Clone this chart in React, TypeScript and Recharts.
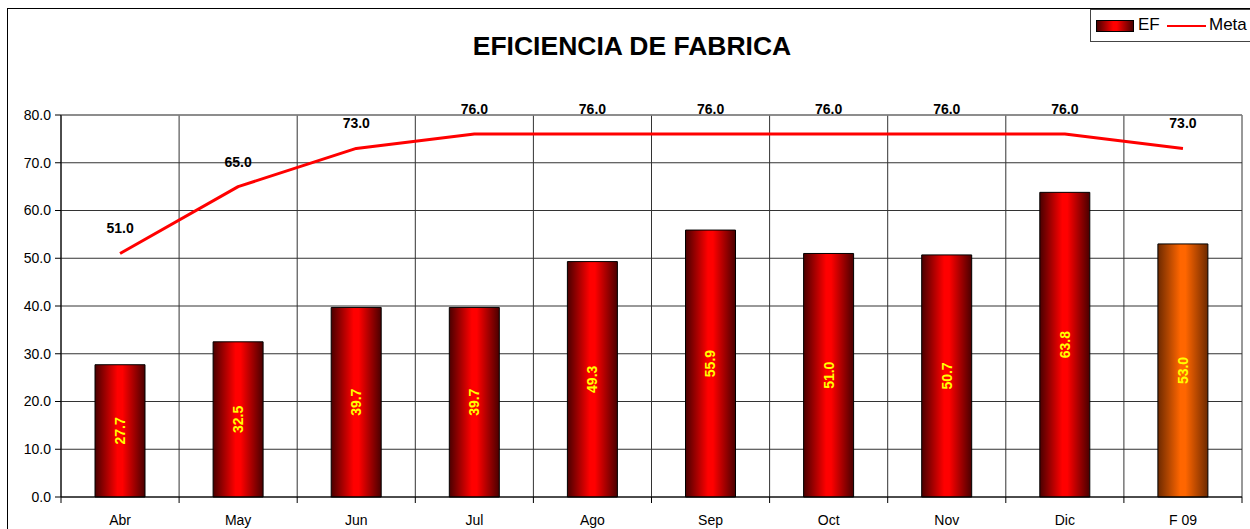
import React from 'react';
import {
  ComposedChart,
  Bar,
  Line,
  XAxis,
  YAxis,
  CartesianGrid,
  Cell,
  LabelList,
  ReferenceLine,
} from 'recharts';

const months = ['Abr', 'May', 'Jun', 'Jul', 'Ago', 'Sep', 'Oct', 'Nov', 'Dic', 'F 09'];
const efValues = [27.7, 32.5, 39.7, 39.7, 49.3, 55.9, 51.0, 50.7, 63.8, 53.0];
const metaValues = [51.0, 65.0, 73.0, 76.0, 76.0, 76.0, 76.0, 76.0, 76.0, 73.0];
const yTicks = [0, 10, 20, 30, 40, 50, 60, 70, 80];
const highlightCategory = 'F 09';

const data = months.map((m, i) => ({ month: m, ef: efValues[i], meta: metaValues[i] }));

const W = 1250;
const H = 529;
const MARGIN = { top: 115, right: 8, bottom: 2, left: 11 };
const Y_AXIS_W = 50;
const X_AXIS_H = 30;
const PLOT_LEFT = MARGIN.left + Y_AXIS_W;
const PLOT_W = W - PLOT_LEFT - MARGIN.right;
const AXIS_Y = H - MARGIN.bottom - X_AXIS_H;
const BAND = PLOT_W / months.length;
const FONT = 'Arial, "Liberation Sans", Helvetica, sans-serif';

const XTick = (props: any) => {
  const { x, payload, index } = props;
  const isLast = index === months.length - 1;
  return (
    <g>
      <line x1={x - BAND / 2} x2={x - BAND / 2} y1={AXIS_Y} y2={AXIS_Y + 6} stroke="#000" />
      {isLast && <line x1={x + BAND / 2} x2={x + BAND / 2} y1={AXIS_Y} y2={AXIS_Y + 6} stroke="#000" />}
      <text x={x} y={AXIS_Y + 28} textAnchor="middle" fontSize={14} fill="#000" fontFamily={FONT}>
        {payload.value}
      </text>
    </g>
  );
};

const BarLabel = (props: any) => {
  const { x, y, width, height, value } = props;
  const cx = x + width / 2;
  const cy = y + height / 2;
  return (
    <text
      x={cx}
      y={cy}
      transform={`rotate(-90 ${cx} ${cy})`}
      textAnchor="middle"
      dominantBaseline="central"
      fontSize={14}
      fontWeight="bold"
      fill="#ffff00"
      fontFamily={FONT}
    >
      {Number(value).toFixed(1)}
    </text>
  );
};

const LineLabel = (props: any) => {
  const { x, y, value } = props;
  return (
    <text x={x} y={y - 20} textAnchor="middle" fontSize={14} fontWeight="bold" fill="#000" fontFamily={FONT}>
      {Number(value).toFixed(1)}
    </text>
  );
};

export default function App() {
  return (
    <div
      style={{
        position: 'absolute',
        left: 0,
        top: 0,
        width: W,
        height: H,
        overflow: 'hidden',
        background: '#fff',
        fontFamily: FONT,
      }}
    >
      <div
        style={{
          position: 'absolute',
          left: 7,
          top: 8,
          width: 1400,
          height: 700,
          borderTop: '1.5px solid #000',
          borderLeft: '1.5px solid #000',
        }}
      />
      <div
        style={{
          position: 'absolute',
          left: 0,
          width: 1264,
          top: 30,
          textAlign: 'center',
          fontSize: 26.5,
          fontWeight: 'bold',
          color: '#000',
          lineHeight: '32px',
        }}
      >
        EFICIENCIA DE FABRICA
      </div>
      <div style={{ position: 'absolute', left: 0, top: 0 }}>
        <ComposedChart width={W} height={H} data={data} margin={MARGIN}>
          <defs>
            <linearGradient id="gradRed" x1="0" y1="0" x2="1" y2="0">
              <stop offset="0%" stopColor="#4a0000" />
              <stop offset="45%" stopColor="#ff0000" />
              <stop offset="55%" stopColor="#ff0000" />
              <stop offset="100%" stopColor="#4a0000" />
            </linearGradient>
            <linearGradient id="gradOrange" x1="0" y1="0" x2="1" y2="0">
              <stop offset="0%" stopColor="#6e2a00" />
              <stop offset="45%" stopColor="#ff6600" />
              <stop offset="55%" stopColor="#ff6600" />
              <stop offset="100%" stopColor="#6e2a00" />
            </linearGradient>
          </defs>
          <CartesianGrid
            stroke="#333"
            strokeWidth={1}
            verticalCoordinatesGenerator={({ offset }: any) =>
              Array.from({ length: months.length + 1 }, (_, i) => offset.left + (i * offset.width) / months.length)
            }
          />
          <ReferenceLine y={80} stroke="#8a8a8a" strokeWidth={1.5} />
          <XAxis
            dataKey="month"
            height={X_AXIS_H}
            axisLine={{ stroke: '#000' }}
            tickLine={false}
            tick={<XTick />}
            interval={0}
          />
          <YAxis
            width={Y_AXIS_W}
            domain={[0, 80]}
            ticks={yTicks}
            tickFormatter={(v: number) => v.toFixed(1)}
            axisLine={{ stroke: '#000' }}
            tickLine={{ stroke: '#000' }}
            tickSize={6}
            tickMargin={4}
            tick={{ fontSize: 14, fill: '#000', fontFamily: FONT }}
            interval={0}
          />
          <Bar dataKey="ef" barSize={50} stroke="#000" strokeWidth={1} isAnimationActive={false}>
            {data.map((d) => (
              <Cell key={d.month} fill={d.month === highlightCategory ? 'url(#gradOrange)' : 'url(#gradRed)'} />
            ))}
            <LabelList dataKey="ef" content={<BarLabel />} />
          </Bar>
          <Line
            type="linear"
            dataKey="meta"
            stroke="#ff0000"
            strokeWidth={3}
            strokeLinejoin="round"
            dot={false}
            activeDot={false}
            isAnimationActive={false}
          >
            <LabelList dataKey="meta" content={<LineLabel />} />
          </Line>
        </ComposedChart>
      </div>
      <div
        style={{
          position: 'absolute',
          left: 1090,
          top: 9,
          width: 200,
          height: 31,
          border: '1px solid #444',
          background: '#fff',
        }}
      >
        <div
          style={{
            position: 'absolute',
            left: 5,
            top: 10,
            width: 36,
            height: 10,
            border: '1px solid #000',
            background: 'linear-gradient(to right, #4a0000, #ff0000 45%, #ff0000 55%, #4a0000)',
          }}
        />
        <div style={{ position: 'absolute', left: 47, top: 5, fontSize: 17, lineHeight: '20px', color: '#000' }}>EF</div>
        <div style={{ position: 'absolute', left: 76, top: 15, width: 39, height: 2, background: '#ff0000' }} />
        <div style={{ position: 'absolute', left: 118, top: 5, fontSize: 17, lineHeight: '20px', color: '#000' }}>Meta</div>
      </div>
    </div>
  );
}
